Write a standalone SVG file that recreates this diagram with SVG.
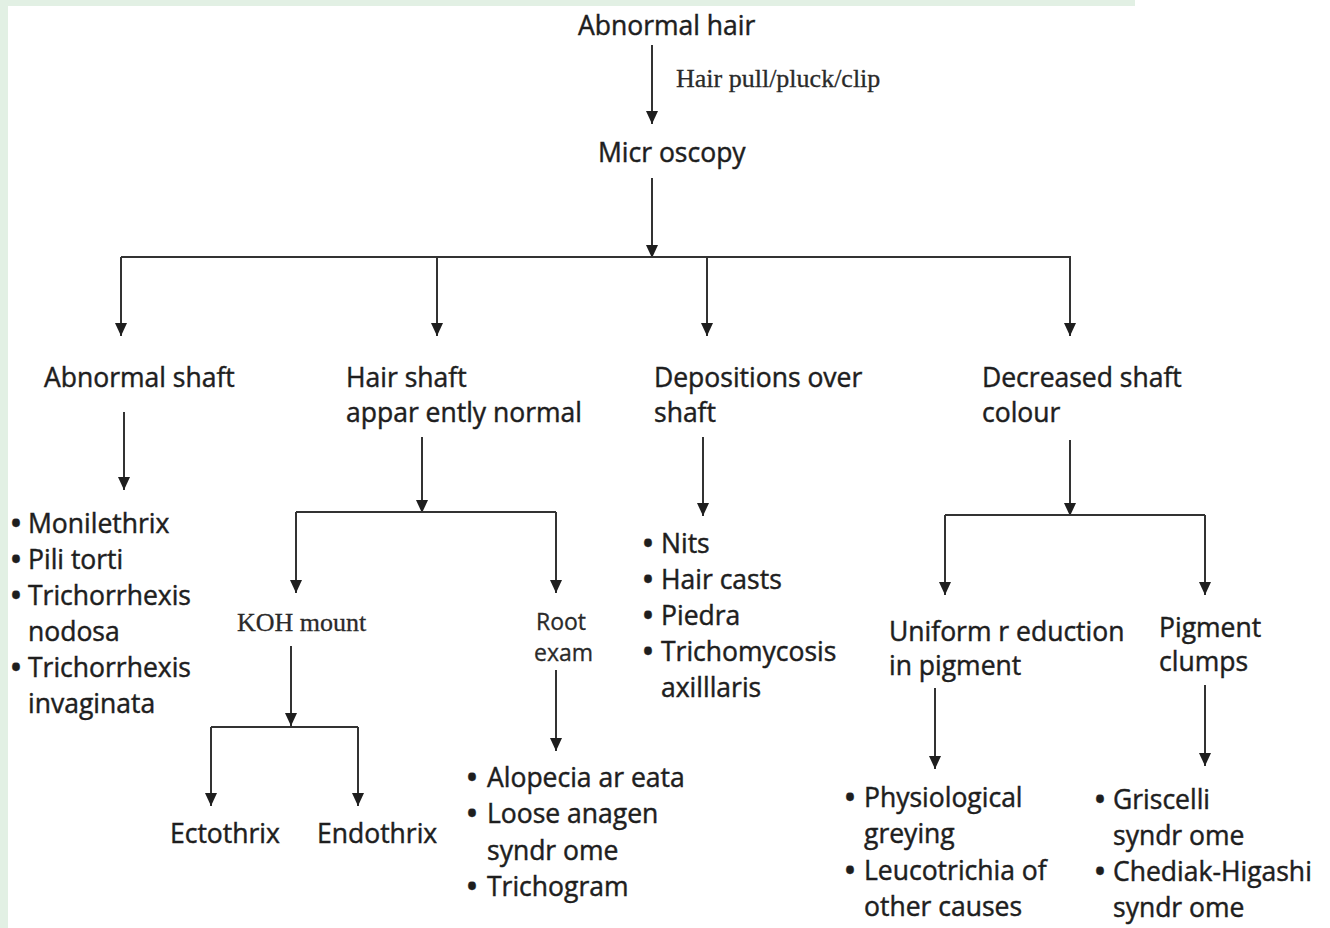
<svg xmlns="http://www.w3.org/2000/svg" width="1330" height="928" viewBox="0 0 1330 928">
<defs>
<marker id="ah" viewBox="0 0 13 12" refX="13" refY="6" markerWidth="13" markerHeight="12" markerUnits="userSpaceOnUse" orient="auto">
<path d="M0,0 L13,6 L0,12 Z" fill="#1e1e1e"/>
</marker>
</defs>
<style>
.t{font-family:"Open Sans","Noto Sans","DejaVu Sans",sans-serif;font-size:26.5px;fill:#1e1e1e;stroke:#1e1e1e;stroke-width:0.45}
.b{font-weight:700}
.s{font-family:"Liberation Serif","Times New Roman",serif;font-size:26px;fill:#2a2a2a;stroke:#2a2a2a;stroke-width:0.3}
.r{font-family:"Open Sans","Noto Sans","DejaVu Sans",sans-serif;font-size:23px;fill:#2a2a2a;stroke:#2a2a2a;stroke-width:0.3}
.c line,.c path{stroke:#333;stroke-width:2;fill:none}
.a{marker-end:url(#ah)}
</style>
<rect x="0" y="0" width="1330" height="928" fill="#fff"/>
<rect x="0" y="0" width="1135" height="6" fill="#e2f0e4"/>
<rect x="0" y="0" width="8" height="928" fill="#e2f0e4"/>

<g class="c" id="connectors">
<line class="a" x1="652" y1="45" x2="652" y2="124"/>
<line class="a" x1="652" y1="178" x2="652" y2="258"/>
<line x1="121" y1="257" x2="1071" y2="257"/>
<line class="a" x1="121" y1="257" x2="121" y2="336"/>
<line class="a" x1="437" y1="257" x2="437" y2="336"/>
<line class="a" x1="707" y1="257" x2="707" y2="336"/>
<line class="a" x1="1070" y1="257" x2="1070" y2="336"/>
<line class="a" x1="124" y1="412" x2="124" y2="490"/>
<line class="a" x1="422" y1="437" x2="422" y2="513"/>
<line x1="296" y1="512" x2="556" y2="512"/>
<line class="a" x1="296" y1="512" x2="296" y2="593"/>
<line class="a" x1="556" y1="512" x2="556" y2="593"/>
<line class="a" x1="291" y1="646" x2="291" y2="726"/>
<line x1="211" y1="727" x2="358" y2="727"/>
<line class="a" x1="211" y1="727" x2="211" y2="806"/>
<line class="a" x1="358" y1="727" x2="358" y2="806"/>
<line class="a" x1="556" y1="670" x2="556" y2="751"/>
<line class="a" x1="703" y1="437" x2="703" y2="516"/>
<line class="a" x1="1070" y1="440" x2="1070" y2="516"/>
<line x1="945" y1="515" x2="1205" y2="515"/>
<line class="a" x1="945" y1="515" x2="945" y2="595"/>
<line class="a" x1="1205" y1="515" x2="1205" y2="595"/>
<line class="a" x1="935" y1="688" x2="935" y2="769"/>
<line class="a" x1="1205" y1="685" x2="1205" y2="766"/>
</g>

<g id="n-abnormal-hair"><text class="t" x="578" y="35">Abnormal hair</text></g>
<g id="l-pull"><text class="s" x="676" y="87">Hair pull/pluck/clip</text></g>
<g id="n-microscopy"><text class="t" x="598" y="162">Micr oscopy</text></g>

<g id="n-abnormal-shaft"><text class="t" x="44" y="387">Abnormal shaft</text></g>
<g id="n-hair-shaft-normal"><text class="t" x="346" y="387">Hair  shaft</text><text class="t" x="346" y="422">appar ently normal</text></g>
<g id="n-depositions"><text class="t" x="654" y="387">Depositions over</text><text class="t" x="654" y="422">shaft</text></g>
<g id="n-decreased"><text class="t" x="982" y="387">Decreased shaft</text><text class="t" x="982" y="422">colour</text></g>

<g id="n-shaft-list">
<text class="t" x="11" y="533"><tspan class="b">•</tspan><tspan x="28">Monilethrix</tspan></text>
<text class="t" x="11" y="569"><tspan class="b">•</tspan><tspan x="28">Pili torti</tspan></text>
<text class="t" x="11" y="605"><tspan class="b">•</tspan><tspan x="28">Trichorrhexis</tspan></text>
<text class="t" x="28" y="641">nodosa</text>
<text class="t" x="11" y="677"><tspan class="b">•</tspan><tspan x="28">Trichorrhexis</tspan></text>
<text class="t" x="28" y="713">invaginata</text>
</g>

<g id="n-koh"><text class="s" x="237" y="631">KOH mount</text></g>
<g id="n-root"><text class="r" x="536" y="630">Root</text><text class="r" x="534" y="661">exam</text></g>
<g id="n-ectothrix"><text class="t" x="170" y="843">Ectothrix</text></g>
<g id="n-endothrix"><text class="t" x="317" y="843">Endothrix</text></g>

<g id="n-root-list">
<text class="t" x="467" y="787"><tspan class="b">•</tspan><tspan x="487">Alopecia ar eata</tspan></text>
<text class="t" x="467" y="823"><tspan class="b">•</tspan><tspan x="487">Loose anagen</tspan></text>
<text class="t" x="487" y="860">syndr ome</text>
<text class="t" x="467" y="896"><tspan class="b">•</tspan><tspan x="487">Trichogram</tspan></text>
</g>

<g id="n-deposit-list">
<text class="t" x="643" y="553"><tspan class="b">•</tspan><tspan x="661">Nits</tspan></text>
<text class="t" x="643" y="589"><tspan class="b">•</tspan><tspan x="661">Hair  casts</tspan></text>
<text class="t" x="643" y="625"><tspan class="b">•</tspan><tspan x="661">Piedra</tspan></text>
<text class="t" x="643" y="661"><tspan class="b">•</tspan><tspan x="661">Trichomycosis</tspan></text>
<text class="t" x="661" y="697">axilllaris</text>
</g>

<g id="n-uniform"><text class="t" x="889" y="641">Uniform r  eduction</text><text class="t" x="889" y="675">in pigment</text></g>
<g id="n-clumps"><text class="t" x="1159" y="637">Pigment</text><text class="t" x="1159" y="671">clumps</text></g>

<g id="n-uniform-list">
<text class="t" x="845" y="807"><tspan class="b">•</tspan><tspan x="864">Physiological</tspan></text>
<text class="t" x="864" y="843">greying</text>
<text class="t" x="845" y="880"><tspan class="b">•</tspan><tspan x="864">Leucotrichia of</tspan></text>
<text class="t" x="864" y="916">other causes</text>
</g>
<g id="n-clumps-list">
<text class="t" x="1095" y="809"><tspan class="b">•</tspan><tspan x="1113">Griscelli</tspan></text>
<text class="t" x="1113" y="845">syndr ome</text>
<text class="t" x="1095" y="881"><tspan class="b">•</tspan><tspan x="1113">Chediak-Higashi</tspan></text>
<text class="t" x="1113" y="917">syndr ome</text>
</g>
</svg>
